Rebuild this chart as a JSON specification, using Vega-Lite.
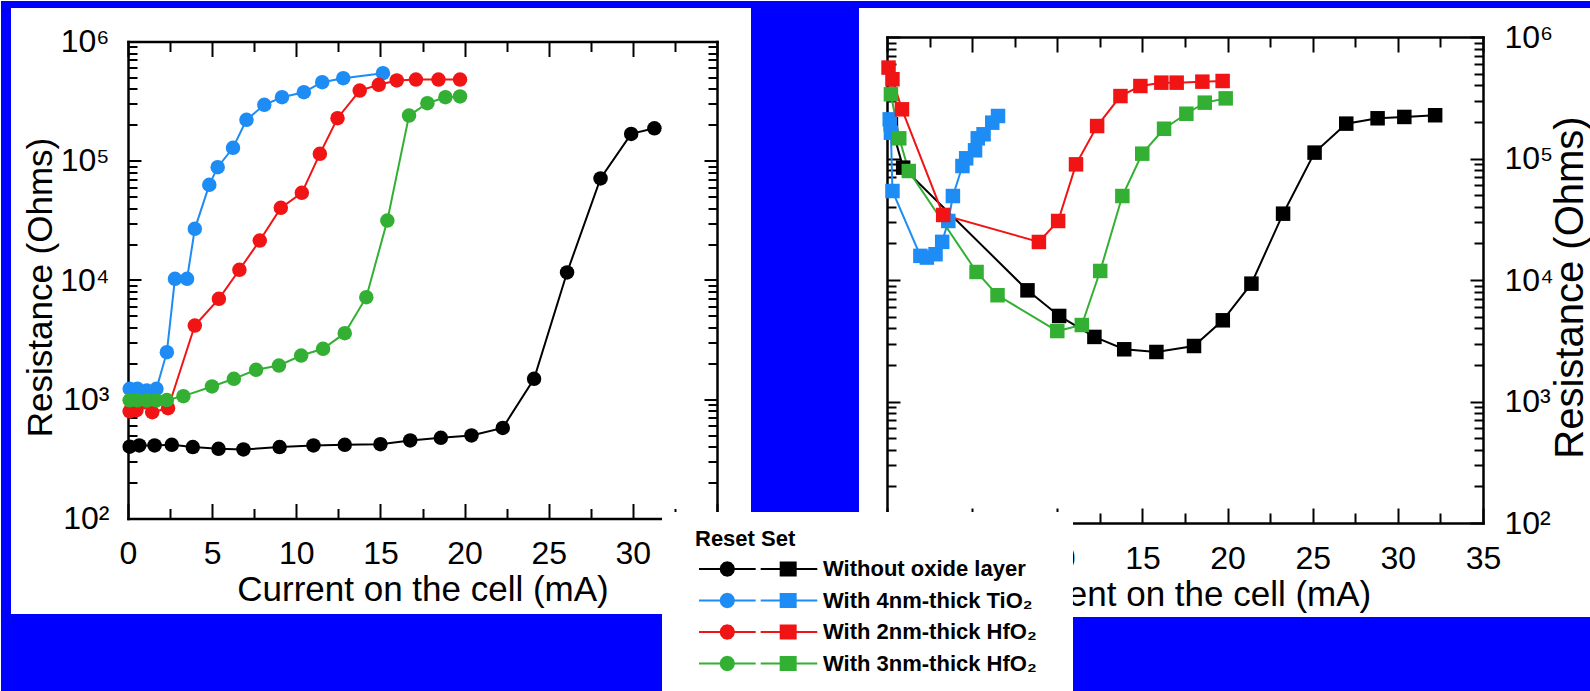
{
 "$schema": "https://vega.github.io/schema/vega-lite/v6.json",
 "background": "#ffffff",
 "padding": 0,
 "autosize": {"type": "pad"},
 "bounds": "flush",
 "center": true,
 "spacing": 170,
 "config": {
  "view": {"stroke": null},
  "font": "Liberation Sans",
  "axis": {
   "labelFont": "Liberation Sans", "titleFont": "Liberation Sans",
   "labelColor": "#000000", "titleColor": "#000000",
   "domainColor": "#000000", "tickColor": "#000000",
   "domainWidth": 2.5, "domainCap": "square", "tickWidth": 2,
   "grid": false,
   "labelFontSize": 32, "titleFontSize": 35, "titleFontWeight": "normal",
   "labelFlush": false, "labelOverlap": false, "labelBound": false
  }
 },
 "datasets": {
  "reset": [
   {"series": "Without oxide layer", "current": 0.1, "resistance": 400},
   {"series": "Without oxide layer", "current": 0.67, "resistance": 410},
   {"series": "Without oxide layer", "current": 1.58, "resistance": 410},
   {"series": "Without oxide layer", "current": 2.6, "resistance": 415},
   {"series": "Without oxide layer", "current": 3.85, "resistance": 397},
   {"series": "Without oxide layer", "current": 5.38, "resistance": 384},
   {"series": "Without oxide layer", "current": 6.86, "resistance": 379},
   {"series": "Without oxide layer", "current": 9.01, "resistance": 397},
   {"series": "Without oxide layer", "current": 11.02, "resistance": 410},
   {"series": "Without oxide layer", "current": 12.88, "resistance": 415},
   {"series": "Without oxide layer", "current": 15.0, "resistance": 420},
   {"series": "Without oxide layer", "current": 16.77, "resistance": 451},
   {"series": "Without oxide layer", "current": 18.59, "resistance": 475},
   {"series": "Without oxide layer", "current": 20.41, "resistance": 497},
   {"series": "Without oxide layer", "current": 22.27, "resistance": 575},
   {"series": "Without oxide layer", "current": 24.13, "resistance": 1483},
   {"series": "Without oxide layer", "current": 26.09, "resistance": 11560},
   {"series": "Without oxide layer", "current": 28.08, "resistance": 71100},
   {"series": "Without oxide layer", "current": 29.9, "resistance": 168000},
   {"series": "Without oxide layer", "current": 31.28, "resistance": 187000},
   {"series": "With 4nm-thick TiO₂", "current": 0.1, "resistance": 1222},
   {"series": "With 4nm-thick TiO₂", "current": 0.56, "resistance": 1222},
   {"series": "With 4nm-thick TiO₂", "current": 1.12, "resistance": 1183},
   {"series": "With 4nm-thick TiO₂", "current": 1.69, "resistance": 1222},
   {"series": "With 4nm-thick TiO₂", "current": 2.31, "resistance": 2483},
   {"series": "With 4nm-thick TiO₂", "current": 2.79, "resistance": 10240},
   {"series": "With 4nm-thick TiO₂", "current": 3.51, "resistance": 10240},
   {"series": "With 4nm-thick TiO₂", "current": 3.97, "resistance": 26850},
   {"series": "With 4nm-thick TiO₂", "current": 4.83, "resistance": 62830},
   {"series": "With 4nm-thick TiO₂", "current": 5.33, "resistance": 88300},
   {"series": "With 4nm-thick TiO₂", "current": 6.24, "resistance": 128500},
   {"series": "With 4nm-thick TiO₂", "current": 7.04, "resistance": 220300},
   {"series": "With 4nm-thick TiO₂", "current": 8.1, "resistance": 294300},
   {"series": "With 4nm-thick TiO₂", "current": 9.15, "resistance": 341000},
   {"series": "With 4nm-thick TiO₂", "current": 10.45, "resistance": 375700},
   {"series": "With 4nm-thick TiO₂", "current": 11.54, "resistance": 456000},
   {"series": "With 4nm-thick TiO₂", "current": 12.79, "resistance": 492000},
   {"series": "With 4nm-thick TiO₂", "current": 15.15, "resistance": 542000},
   {"series": "With 2nm-thick HfO₂", "current": 0.1, "resistance": 790},
   {"series": "With 2nm-thick HfO₂", "current": 0.5, "resistance": 810},
   {"series": "With 2nm-thick HfO₂", "current": 0.95, "resistance": 944},
   {"series": "With 2nm-thick HfO₂", "current": 1.44, "resistance": 778},
   {"series": "With 2nm-thick HfO₂", "current": 2.38, "resistance": 841},
   {"series": "With 2nm-thick HfO₂", "current": 3.97, "resistance": 4150},
   {"series": "With 2nm-thick HfO₂", "current": 5.4, "resistance": 6950},
   {"series": "With 2nm-thick HfO₂", "current": 6.62, "resistance": 12180},
   {"series": "With 2nm-thick HfO₂", "current": 7.83, "resistance": 21430},
   {"series": "With 2nm-thick HfO₂", "current": 9.08, "resistance": 40270},
   {"series": "With 2nm-thick HfO₂", "current": 10.33, "resistance": 53800},
   {"series": "With 2nm-thick HfO₂", "current": 11.4, "resistance": 114300},
   {"series": "With 2nm-thick HfO₂", "current": 12.45, "resistance": 227300},
   {"series": "With 2nm-thick HfO₂", "current": 13.77, "resistance": 388000},
   {"series": "With 2nm-thick HfO₂", "current": 14.9, "resistance": 433500},
   {"series": "With 2nm-thick HfO₂", "current": 15.97, "resistance": 471000},
   {"series": "With 2nm-thick HfO₂", "current": 17.11, "resistance": 480000},
   {"series": "With 2nm-thick HfO₂", "current": 18.45, "resistance": 480000},
   {"series": "With 2nm-thick HfO₂", "current": 19.73, "resistance": 480000},
   {"series": "With 3nm-thick HfO₂", "current": 0.1, "resistance": 980},
   {"series": "With 3nm-thick HfO₂", "current": 0.56, "resistance": 980},
   {"series": "With 3nm-thick HfO₂", "current": 1.12, "resistance": 975},
   {"series": "With 3nm-thick HfO₂", "current": 1.69, "resistance": 980},
   {"series": "With 3nm-thick HfO₂", "current": 2.31, "resistance": 985},
   {"series": "With 3nm-thick HfO₂", "current": 3.29, "resistance": 1062},
   {"series": "With 3nm-thick HfO₂", "current": 4.99, "resistance": 1280},
   {"series": "With 3nm-thick HfO₂", "current": 6.29, "resistance": 1484},
   {"series": "With 3nm-thick HfO₂", "current": 7.61, "resistance": 1766},
   {"series": "With 3nm-thick HfO₂", "current": 8.97, "resistance": 1918},
   {"series": "With 3nm-thick HfO₂", "current": 10.29, "resistance": 2326},
   {"series": "With 3nm-thick HfO₂", "current": 11.59, "resistance": 2648},
   {"series": "With 3nm-thick HfO₂", "current": 12.88, "resistance": 3581},
   {"series": "With 3nm-thick HfO₂", "current": 14.16, "resistance": 7180},
   {"series": "With 3nm-thick HfO₂", "current": 15.41, "resistance": 31540},
   {"series": "With 3nm-thick HfO₂", "current": 16.7, "resistance": 239300},
   {"series": "With 3nm-thick HfO₂", "current": 17.79, "resistance": 303800},
   {"series": "With 3nm-thick HfO₂", "current": 18.86, "resistance": 341000},
   {"series": "With 3nm-thick HfO₂", "current": 19.73, "resistance": 346000}
  ],
  "set": [
   {"series": "Without oxide layer", "current": 0.23, "resistance": 191000},
   {"series": "Without oxide layer", "current": 0.95, "resistance": 84100},
   {"series": "Without oxide layer", "current": 8.25, "resistance": 8220},
   {"series": "Without oxide layer", "current": 10.11, "resistance": 5060},
   {"series": "Without oxide layer", "current": 12.18, "resistance": 3400},
   {"series": "Without oxide layer", "current": 13.93, "resistance": 2690},
   {"series": "Without oxide layer", "current": 15.82, "resistance": 2556},
   {"series": "Without oxide layer", "current": 18.03, "resistance": 2863},
   {"series": "Without oxide layer", "current": 19.72, "resistance": 4660},
   {"series": "Without oxide layer", "current": 21.4, "resistance": 9330},
   {"series": "Without oxide layer", "current": 23.26, "resistance": 35150},
   {"series": "Without oxide layer", "current": 25.11, "resistance": 111800},
   {"series": "Without oxide layer", "current": 26.97, "resistance": 193600},
   {"series": "Without oxide layer", "current": 28.81, "resistance": 214300},
   {"series": "Without oxide layer", "current": 30.38, "resistance": 219800},
   {"series": "Without oxide layer", "current": 32.19, "resistance": 227000},
   {"series": "With 4nm-thick TiO₂", "current": 0.16, "resistance": 210000},
   {"series": "With 4nm-thick TiO₂", "current": 0.23, "resistance": 163000},
   {"series": "With 4nm-thick TiO₂", "current": 0.32, "resistance": 54000},
   {"series": "With 4nm-thick TiO₂", "current": 1.96, "resistance": 15800},
   {"series": "With 4nm-thick TiO₂", "current": 2.34, "resistance": 15300},
   {"series": "With 4nm-thick TiO₂", "current": 2.85, "resistance": 16300},
   {"series": "With 4nm-thick TiO₂", "current": 3.24, "resistance": 20600},
   {"series": "With 4nm-thick TiO₂", "current": 3.6, "resistance": 30600},
   {"series": "With 4nm-thick TiO₂", "current": 3.87, "resistance": 49100},
   {"series": "With 4nm-thick TiO₂", "current": 4.43, "resistance": 86700},
   {"series": "With 4nm-thick TiO₂", "current": 4.65, "resistance": 100400},
   {"series": "With 4nm-thick TiO₂", "current": 5.17, "resistance": 116800},
   {"series": "With 4nm-thick TiO₂", "current": 5.33, "resistance": 146600},
   {"series": "With 4nm-thick TiO₂", "current": 5.67, "resistance": 158200},
   {"series": "With 4nm-thick TiO₂", "current": 6.18, "resistance": 197200},
   {"series": "With 4nm-thick TiO₂", "current": 6.52, "resistance": 223800},
   {"series": "With 2nm-thick HfO₂", "current": 0.09, "resistance": 560000},
   {"series": "With 2nm-thick HfO₂", "current": 0.32, "resistance": 449000},
   {"series": "With 2nm-thick HfO₂", "current": 0.88, "resistance": 254000},
   {"series": "With 2nm-thick HfO₂", "current": 3.3, "resistance": 34300},
   {"series": "With 2nm-thick HfO₂", "current": 8.92, "resistance": 20560},
   {"series": "With 2nm-thick HfO₂", "current": 10.05, "resistance": 30600},
   {"series": "With 2nm-thick HfO₂", "current": 11.1, "resistance": 89500},
   {"series": "With 2nm-thick HfO₂", "current": 12.34, "resistance": 185000},
   {"series": "With 2nm-thick HfO₂", "current": 13.71, "resistance": 326500},
   {"series": "With 2nm-thick HfO₂", "current": 14.88, "resistance": 395000},
   {"series": "With 2nm-thick HfO₂", "current": 16.11, "resistance": 421000},
   {"series": "With 2nm-thick HfO₂", "current": 17.01, "resistance": 421000},
   {"series": "With 2nm-thick HfO₂", "current": 18.52, "resistance": 429000},
   {"series": "With 2nm-thick HfO₂", "current": 19.71, "resistance": 434500},
   {"series": "With 3nm-thick HfO₂", "current": 0.23, "resistance": 337700},
   {"series": "With 3nm-thick HfO₂", "current": 0.72, "resistance": 146600},
   {"series": "With 3nm-thick HfO₂", "current": 1.28, "resistance": 78900},
   {"series": "With 3nm-thick HfO₂", "current": 5.26, "resistance": 11640},
   {"series": "With 3nm-thick HfO₂", "current": 6.49, "resistance": 7490},
   {"series": "With 3nm-thick HfO₂", "current": 10.0, "resistance": 3800},
   {"series": "With 3nm-thick HfO₂", "current": 11.44, "resistance": 4260},
   {"series": "With 3nm-thick HfO₂", "current": 12.52, "resistance": 11870},
   {"series": "With 3nm-thick HfO₂", "current": 13.82, "resistance": 49100},
   {"series": "With 3nm-thick HfO₂", "current": 14.99, "resistance": 109600},
   {"series": "With 3nm-thick HfO₂", "current": 16.27, "resistance": 175800},
   {"series": "With 3nm-thick HfO₂", "current": 17.58, "resistance": 233600},
   {"series": "With 3nm-thick HfO₂", "current": 18.66, "resistance": 288100},
   {"series": "With 3nm-thick HfO₂", "current": 19.89, "resistance": 312600}
  ]
 },
 "resolve": {"scale": {"color": "independent"}, "legend": {"color": "independent"}},
 "hconcat": [
  {
   "width": 589, "height": 477,
   "resolve": {"axis": {"x": "independent", "y": "independent"}},
   "layer": [
    {
     "data": {"values": [{}]},
     "mark": {"type": "rect", "fill": "#0000ff"},
     "encoding": {
      "x": {"datum": -7.5467, "type": "quantitative", "scale": {"domain": [0, 35], "nice": false, "zero": false},
       "axis": {"orient": "bottom", "values": [0,5,10,15,20,25,30,35], "tickSize": -15, "labelPadding": 35,
        "labelExpr": "datum.value > 31 ? '' : datum.label",
        "title": "Current on the cell (mA)", "titleX": 294.5, "titleY": 82, "titleBaseline": "alphabetic", "titleAlign": "center"}},
      "x2": {"datum": 86.93},
      "y": {"datum": 2186000, "type": "quantitative", "scale": {"type": "log", "domain": [100, 1000000], "nice": false},
       "axis": {"orient": "left", "values": [100,1000,10000,100000,1000000], "tickSize": -13,
        "labelExpr": "datum.value == 100 ? '10²' : datum.value == 1000 ? '10³' : datum.value == 10000 ? '10⁴' : datum.value == 100000 ? '10⁵' : '10⁶'",
        "labelPadding": 32,
        "title": "Resistance (Ohms)", "titleAngle": -90, "titleX": -77, "titleY": 245.5, "titleBaseline": "alphabetic", "titleAlign": "center"}},
      "y2": {"datum": 1909600}
     }
    },
    {
     "data": {"values": [{}]},
     "mark": {"type": "rect", "fill": "#0000ff"},
     "encoding": {
      "x": {"datum": -7.5467, "type": "quantitative",
       "axis": {"orient": "bottom", "values": [2.5,7.5,12.5,17.5,22.5,27.5,32.5], "tickSize": -10, "labels": false, "domain": false, "title": null}},
      "x2": {"datum": -6.9524},
      "y": {"datum": 2186000, "type": "quantitative",
       "axis": {"orient": "left", "values": [200,300,400,500,600,700,800,900,2000,3000,4000,5000,6000,7000,8000,9000,20000,30000,40000,50000,60000,70000,80000,90000,200000,300000,400000,500000,600000,700000,800000,900000], "tickSize": -9, "labels": false, "domain": false, "title": null}},
      "y2": {"datum": 3.509}
     }
    },
    {
     "data": {"values": [{}]},
     "mark": {"type": "rect", "fill": "#0000ff"},
     "encoding": {
      "x": {"datum": 37.02, "type": "quantitative",
       "axis": {"orient": "top", "values": [0,5,10,15,20,25,30,35], "tickSize": -15, "labels": false, "title": null}},
      "x2": {"datum": 43.438},
      "y": {"datum": 2186000, "type": "quantitative",
       "axis": {"orient": "right", "values": [100,1000,10000,100000,1000000], "tickSize": -13, "labels": false, "title": null}},
      "y2": {"datum": 113.4}
     }
    },
    {
     "data": {"values": [{}]},
     "mark": {"type": "rect", "fill": "#0000ff"},
     "encoding": {
      "x": {"datum": -7.5467, "type": "quantitative",
       "axis": {"orient": "top", "values": [2.5,7.5,12.5,17.5,22.5,27.5,32.5], "tickSize": -10, "labels": false, "domain": false, "title": null}},
      "x2": {"datum": 31.732},
      "y": {"datum": 15.82, "type": "quantitative",
       "axis": {"orient": "right", "values": [200,300,400,500,600,700,800,900,2000,3000,4000,5000,6000,7000,8000,9000,20000,30000,40000,50000,60000,70000,80000,90000,200000,300000,400000,500000,600000,700000,800000,900000], "tickSize": -9, "labels": false, "domain": false, "title": null}},
      "y2": {"datum": 3.509}
     }
    },
    {
     "data": {"name": "reset"},
     "mark": {"type": "line", "strokeWidth": 2},
     "encoding": {
      "x": {"field": "current", "type": "quantitative", "axis": null},
      "y": {"field": "resistance", "type": "quantitative", "axis": null},
      "color": {"field": "series", "type": "nominal",
       "scale": {"domain": ["Without oxide layer", "With 4nm-thick TiO₂", "With 2nm-thick HfO₂", "With 3nm-thick HfO₂"], "range": ["#000000", "#1e8cf5", "#f01414", "#33b033"]},
       "legend": null}
     }
    },
    {
     "data": {"name": "reset"},
     "mark": {"type": "point", "shape": "circle", "filled": true, "size": 210, "opacity": 1},
     "encoding": {
      "x": {"field": "current", "type": "quantitative", "axis": null},
      "y": {"field": "resistance", "type": "quantitative", "axis": null},
      "color": {"field": "series", "type": "nominal",
       "scale": {"domain": ["Without oxide layer", "With 4nm-thick TiO₂", "With 2nm-thick HfO₂", "With 3nm-thick HfO₂"], "range": ["#000000", "#1e8cf5", "#f01414", "#33b033"]},
       "legend": null}
     }
    }
   ]
  },
  {
   "width": 596, "height": 486,
   "resolve": {"axis": {"x": "independent", "y": "independent"}},
   "layer": [
    {
     "data": {"values": [{}]},
     "mark": {"type": "rect", "fill": "#0000ff"},
     "encoding": {
      "x": {"datum": 10.923, "type": "quantitative", "scale": {"domain": [0, 35], "nice": false, "zero": false},
       "axis": {"orient": "bottom", "values": [0,5,10,15,20,25,30,35], "tickSize": -15, "labelPadding": 35,
        "labelExpr": "datum.value < 9 ? '' : datum.label",
        "title": "Current on the cell (mA)", "titleX": 298, "titleY": 82, "titleBaseline": "alphabetic", "titleAlign": "center"}},
      "x2": {"datum": 41.33},
      "y": {"datum": 16.84, "type": "quantitative", "scale": {"type": "log", "domain": [100, 1000000], "nice": false},
       "axis": {"orient": "right", "values": [100,1000,10000,100000,1000000], "tickSize": -13,
        "labelExpr": "datum.value == 100 ? '10²' : datum.value == 1000 ? '10³' : datum.value == 10000 ? '10⁴' : datum.value == 100000 ? '10⁵' : '10⁶'",
        "labelPadding": 34,
        "title": "Resistance (Ohms)", "titleFontSize": 40, "titleAngle": -90, "titleX": 107.5, "titleY": 250, "titleBaseline": "bottom", "titleAlign": "center"}},
      "y2": {"datum": 4.0644}
     }
    },
    {
     "data": {"values": [{}]},
     "mark": {"type": "rect", "fill": "#ffffff"},
     "encoding": {
      "x": {"datum": -13.213, "type": "quantitative",
       "axis": {"orient": "bottom", "values": [2.5,7.5,12.5,17.5,22.5,27.5,32.5], "tickSize": -10, "labels": false, "domain": false, "title": null}},
      "x2": {"datum": 10.923},
      "y": {"datum": 123.17, "type": "quantitative",
       "axis": {"orient": "right", "values": [200,300,400,500,600,700,800,900,2000,3000,4000,5000,6000,7000,8000,9000,20000,30000,40000,50000,60000,70000,80000,90000,200000,300000,400000,500000,600000,700000,800000,900000], "tickSize": -9, "labels": false, "domain": false, "title": null}},
      "y2": {"datum": 4.0644}
     }
    },
    {
     "data": {"name": "set"},
     "mark": {"type": "line", "strokeWidth": 2},
     "encoding": {
      "x": {"field": "current", "type": "quantitative",
       "axis": {"orient": "top", "values": [0,5,10,15,20,25,30,35], "tickSize": -15, "labels": false, "title": null}},
      "y": {"field": "resistance", "type": "quantitative",
       "axis": {"orient": "left", "values": [100,1000,10000,100000,1000000], "tickSize": -13, "labels": false, "title": null}},
      "color": {"field": "series", "type": "nominal",
       "scale": {"domain": ["Without oxide layer", "With 4nm-thick TiO₂", "With 2nm-thick HfO₂", "With 3nm-thick HfO₂"], "range": ["#000000", "#1e8cf5", "#f01414", "#33b033"]},
       "legend": {
        "orient": "none", "legendX": -209, "legendY": 475,
        "padding": 17,
        "title": "Reset Set",
        "titleFont": "Liberation Sans", "titleFontSize": 22, "titleFontWeight": "bold", "titleColor": "#000000", "titlePadding": 7,
        "labelFont": "Liberation Sans", "labelFontSize": 22, "labelFontWeight": "bold", "labelColor": "#000000", "labelLimit": 500, "labelOffset": 106,
        "symbolType": "M-1,0L7.1,0M7.81,0L15.9,0M3.997,0L3.869,0.479L3.519,0.829L3.04,0.957L2.561,0.829L2.211,0.479L2.083,0L2.211,-0.479L2.561,-0.829L3.04,-0.957L3.519,-0.829L3.869,-0.479ZM10.67,-0.93L12.81,-0.93L12.81,0.93L10.67,0.93Z",
        "symbolSize": 196, "symbolStrokeWidth": 2,
        "rowPadding": 9.5,
        "encode": {"symbols": {"update": {
         "fill": {"signal": "datum.value === 'Without oxide layer' ? '#000000' : datum.value === 'With 4nm-thick TiO₂' ? '#1e8cf5' : datum.value === 'With 2nm-thick HfO₂' ? '#f01414' : '#33b033'"}
        }}}
       }}
     }
    },
    {
     "data": {"name": "set"},
     "mark": {"type": "point", "shape": "square", "filled": true, "size": 210, "opacity": 1},
     "encoding": {
      "x": {"field": "current", "type": "quantitative",
       "axis": {"orient": "top", "values": [2.5,7.5,12.5,17.5,22.5,27.5,32.5], "tickSize": -10, "labels": false, "domain": false, "title": null}},
      "y": {"field": "resistance", "type": "quantitative",
       "axis": {"orient": "left", "values": [200,300,400,500,600,700,800,900,2000,3000,4000,5000,6000,7000,8000,9000,20000,30000,40000,50000,60000,70000,80000,90000,200000,300000,400000,500000,600000,700000,800000,900000], "tickSize": -9, "labels": false, "domain": false, "title": null}},
      "color": {"field": "series", "type": "nominal",
       "scale": {"domain": ["Without oxide layer", "With 4nm-thick TiO₂", "With 2nm-thick HfO₂", "With 3nm-thick HfO₂"], "range": ["#000000", "#1e8cf5", "#f01414", "#33b033"]},
       "legend": null}
     }
    }
   ]
  }
 ]
}
